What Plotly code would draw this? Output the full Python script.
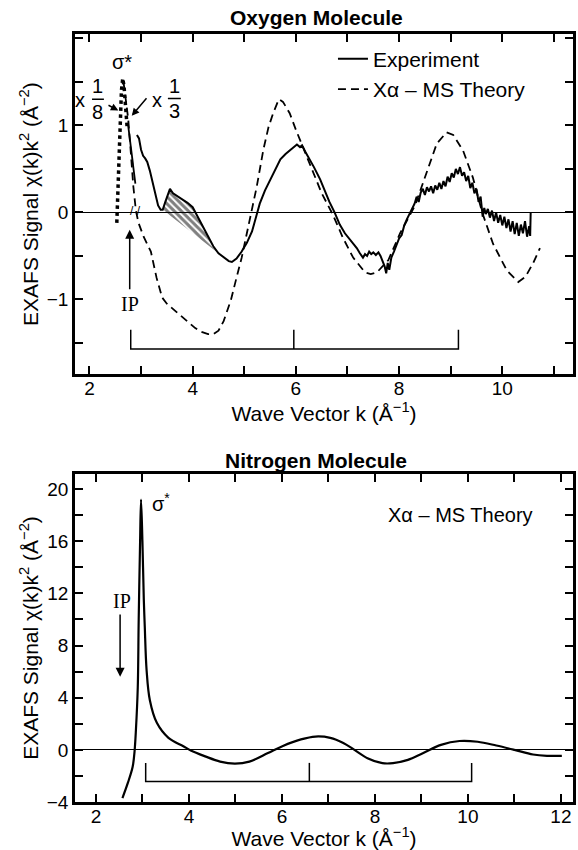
import plotly.graph_objects as go

# ---- Oxygen molecule ----
# experiment, main trace
o2_exp_k = [2.92, 2.96, 3.00, 3.04, 3.08, 3.12, 3.17, 3.21, 3.27, 3.33, 3.38, 3.42, 3.47, 3.52, 3.56,
            3.62, 3.70, 3.80, 3.90, 4.00, 4.10, 4.20, 4.30, 4.40, 4.50, 4.60, 4.70, 4.76, 4.85, 4.95,
            5.05, 5.15, 5.22, 5.30, 5.40, 5.50, 5.60, 5.70, 5.80, 5.90, 5.97, 6.02, 6.08, 6.12, 6.18,
            6.25, 6.35, 6.47, 6.55, 6.65, 6.75, 6.85, 6.95, 7.05, 7.12, 7.18, 7.24, 7.30, 7.34, 7.38,
            7.42, 7.46, 7.50, 7.55, 7.60, 7.64, 7.68, 7.72, 7.75, 7.78, 7.81, 7.85, 7.90, 7.95, 8.00,
            8.05, 8.10, 8.15, 8.20, 8.25, 8.30, 8.34, 8.38, 8.42, 8.46, 8.50, 8.54, 8.58, 8.62, 8.66,
            8.70, 8.74, 8.78, 8.82, 8.86, 8.90, 8.94, 8.98, 9.02, 9.06, 9.10, 9.14, 9.18, 9.22, 9.26,
            9.30, 9.34, 9.38, 9.42, 9.46, 9.50, 9.54, 9.58, 9.62, 9.65, 9.68, 9.72, 9.76, 9.80, 9.84,
            9.88, 9.92, 9.96, 10.00, 10.04, 10.08, 10.12, 10.16, 10.20, 10.24, 10.28, 10.32, 10.36,
            10.40, 10.44, 10.48, 10.52, 10.54, 10.55]
o2_exp_y = [0.89, 0.85, 0.72, 0.65, 0.62, 0.58, 0.48, 0.37, 0.22, 0.08, 0.03, 0.03, 0.12, 0.22, 0.27,
            0.22, 0.19, 0.15, 0.11, 0.06, -0.05, -0.17, -0.28, -0.39, -0.47, -0.52, -0.56, -0.57, -0.53, -0.45,
            -0.35, -0.22, -0.08, 0.10, 0.25, 0.37, 0.50, 0.61, 0.67, 0.72, 0.76, 0.78, 0.75, 0.77, 0.70,
            0.63, 0.52, 0.38, 0.26, 0.12, 0.00, -0.14, -0.24, -0.31, -0.36, -0.41, -0.47, -0.52, -0.48, -0.50,
            -0.45, -0.48, -0.46, -0.49, -0.46, -0.50, -0.56, -0.62, -0.70, -0.58, -0.66, -0.52, -0.45, -0.38, -0.30,
            -0.26, -0.15, -0.08, -0.02, 0.05, 0.10, 0.18, 0.12, 0.23, 0.27, 0.20, 0.29, 0.24, 0.30, 0.22,
            0.31, 0.26, 0.34, 0.27, 0.36, 0.30, 0.41, 0.35, 0.45, 0.40, 0.50, 0.44, 0.52, 0.42, 0.46,
            0.36, 0.42, 0.28, 0.34, 0.22, 0.27, 0.12, 0.18, -0.05, 0.05, -0.02, 0.04, -0.06, 0.02, -0.10,
            0.00, -0.12, -0.03, -0.15, -0.05, -0.18, -0.08, -0.22, -0.10, -0.25, -0.12, -0.27, -0.14,
            -0.24, -0.10, -0.28, -0.16, -0.27, 0.00]
# sigma* resonance (scaled x1/8), dotted
o2_peak_k = [2.53, 2.56, 2.59, 2.62, 2.645, 2.67, 2.70, 2.73]
o2_peak_y = [-0.12, 0.30, 0.90, 1.40, 1.54, 1.45, 1.20, 0.98]
# short segment after the peak (scaled x1/3)
o2_tail_k = [2.75, 2.80, 2.85, 2.89]
o2_tail_y = [1.00, 0.75, 0.50, 0.33]
# X-alpha MS theory
o2_th_k = [2.66, 2.70, 2.75, 2.80, 2.85, 2.90, 2.95, 3.05, 3.19, 3.30, 3.41, 3.50, 3.60, 3.75, 3.91,
           4.05, 4.16, 4.30, 4.40, 4.50, 4.60, 4.74, 4.85, 4.95, 5.05, 5.15, 5.24, 5.37, 5.47, 5.56,
           5.67, 5.75, 5.88, 6.00, 6.08, 6.20, 6.33, 6.50, 6.72, 6.91, 7.11, 7.34, 7.45, 7.57, 7.79,
           8.02, 8.31, 8.54, 8.73, 8.92, 9.05, 9.24, 9.43, 9.61, 9.82, 10.09, 10.31, 10.45, 10.60, 10.73]
o2_th_y = [1.50, 1.30, 1.08, 0.70, 0.30, 0.02, -0.12, -0.28, -0.45, -0.75, -0.98, -1.05, -1.10, -1.18, -1.26,
           -1.33, -1.37, -1.40, -1.40, -1.36, -1.25, -1.01, -0.75, -0.52, -0.24, 0.05, 0.29, 0.72, 0.98, 1.14,
           1.30, 1.27, 1.14, 0.95, 0.83, 0.65, 0.46, 0.22, -0.03, -0.29, -0.52, -0.69, -0.71, -0.69, -0.55,
           -0.24, 0.08, 0.48, 0.79, 0.92, 0.89, 0.71, 0.40, 0.00, -0.36, -0.67, -0.80, -0.74, -0.58, -0.41]
o2_hatch_range = (3.42, 4.50)
o2_bracket_k = [2.80, 5.96, 9.15]
o2_bracket_y = [-1.57, -1.35]
o2_ip_k = 2.78

# ---- Nitrogen molecule (theory only) ----
n2_k = [2.57, 2.69, 2.79, 2.83, 2.86, 2.90, 2.92, 2.95, 2.97, 3.00, 3.03, 3.05, 3.09, 3.16, 3.31,
        3.56, 3.88, 4.04, 4.35, 4.67, 4.99, 5.30, 5.70, 6.01, 6.41, 6.72, 7.04, 7.32, 7.56, 7.84,
        8.16, 8.39, 8.71, 9.03, 9.42, 9.82, 10.21, 10.61, 11.00, 11.40, 11.70, 12.02]
n2_y = [-3.7, -2.5, -1.3, -0.15, 1.5, 4.8, 10.0, 16.0, 19.2, 16.0, 11.5, 9.5, 6.1, 3.8, 2.07,
        0.92, 0.28, -0.05, -0.5, -0.9, -1.05, -0.9, -0.25, 0.28, 0.8, 1.02, 0.92, 0.53, 0.0, -0.64,
        -1.02, -1.02, -0.77, -0.26, 0.38, 0.68, 0.62, 0.33, 0.0, -0.36, -0.46, -0.46]
n2_bracket_k = [3.07, 6.59, 10.08]
n2_bracket_y = [-2.43, -1.0]
n2_ip_k = 2.52

FONT = "Liberation Sans, Arial, sans-serif"
SERIF = "Liberation Serif, Times New Roman, serif"


def bracket(ks, ys):
    b, t = ys
    return ([ks[0], ks[0], ks[2], ks[2], None, ks[1], ks[1]],
            [t, b, b, t, None, b, t])


fig = go.Figure()

# hatched area under the experimental bump
hk = [k for k in o2_exp_k if o2_hatch_range[0] <= k <= o2_hatch_range[1]]
hy = [y for k, y in zip(o2_exp_k, o2_exp_y) if o2_hatch_range[0] <= k <= o2_hatch_range[1]]
fig.add_trace(go.Scatter(x=hk, y=hy, fill="toself", mode="lines", line=dict(width=0),
                         fillcolor="rgba(0,0,0,0)",
                         fillpattern=dict(shape="\\", fgcolor="black", size=5, solidity=0.6),
                         showlegend=False, hoverinfo="skip"))
fig.add_trace(go.Scatter(x=o2_exp_k, y=o2_exp_y, mode="lines", name="Experiment",
                         line=dict(color="black", width=2)))
fig.add_trace(go.Scatter(x=o2_th_k, y=o2_th_y, mode="lines", name="Xα – MS Theory",
                         line=dict(color="black", width=1.8, dash="8px,5px")))
fig.add_trace(go.Scatter(x=o2_peak_k, y=o2_peak_y, mode="lines", showlegend=False,
                         line=dict(color="black", width=3.5, dash="dot")))
fig.add_trace(go.Scatter(x=o2_tail_k, y=o2_tail_y, mode="lines", showlegend=False,
                         line=dict(color="black", width=1.8)))
bx, by = bracket(o2_bracket_k, o2_bracket_y)
fig.add_trace(go.Scatter(x=bx, y=by, mode="lines", showlegend=False,
                         line=dict(color="black", width=1.5)))

fig.add_trace(go.Scatter(x=n2_k, y=n2_y, mode="lines", showlegend=False, line_shape="spline",
                         line=dict(color="black", width=2.2), xaxis="x2", yaxis="y2"))
bx, by = bracket(n2_bracket_k, n2_bracket_y)
fig.add_trace(go.Scatter(x=bx, y=by, mode="lines", showlegend=False,
                         line=dict(color="black", width=1.5), xaxis="x2", yaxis="y2"))

axis_common = dict(showline=True, linewidth=2.5, linecolor="black", mirror="ticks",
                   ticks="inside", ticklen=8, tickwidth=1.5, tickcolor="black", automargin=False,
                   showgrid=False, tickfont=dict(family=FONT, size=19, color="black"))
ytitle = "EXAFS Signal χ(k)k<sup>2</sup> (Å<sup>−2</sup>)"
xtitle = "Wave Vector k (Å<sup>−1</sup>)"
tfont = dict(family=FONT, size=21, color="black")

fig.update_layout(
    width=578, height=850,
    margin=dict(l=75, r=5, t=34, b=48),
    paper_bgcolor="white", plot_bgcolor="white",
    font=dict(family=FONT, color="black"),
    xaxis=dict(axis_common, domain=[0, 1], range=[1.72, 11.37], zeroline=False, anchor="y",
               tickvals=list(range(2, 12)), ticklabelstandoff=-5,
               ticktext=[str(v) if v % 2 == 0 else "" for v in range(2, 12)],
               title=dict(text=xtitle, font=tfont, standoff=2)),
    yaxis=dict(axis_common, domain=[0.557, 1], range=[-1.86, 2.05], anchor="x",
               zeroline=True, zerolinecolor="black", zerolinewidth=1,
               tickvals=[-1.5, -1, -0.5, 0, 0.5, 1, 1.5, 2],
               ticktext=["", "−1", "", "0", "", "1", "", ""],
               title=dict(text=ytitle, font=tfont, standoff=3)),
    xaxis2=dict(axis_common, domain=[0, 1], range=[1.55, 12.26], zeroline=False, anchor="y2",
                tickvals=list(range(2, 13)), ticklabelstandoff=-5,
                ticktext=[str(v) if v % 2 == 0 else "" for v in range(2, 13)],
                title=dict(text=xtitle, font=tfont, standoff=2)),
    yaxis2=dict(axis_common, domain=[0, 0.427], range=[-4, 21.15], anchor="x2",
                zeroline=True, zerolinecolor="black", zerolinewidth=1,
                tickvals=list(range(-4, 21, 2)),
                ticktext=[("−" + str(-v) if v < 0 else str(v)) if v % 4 == 0 else "" for v in range(-4, 21, 2)],
                title=dict(text=ytitle, font=tfont, standoff=3)),
    legend=dict(x=0.518, y=0.994, xanchor="left", yanchor="top", bgcolor="rgba(0,0,0,0)",
                font=dict(family=FONT, size=21, color="black"), tracegroupgap=4),
)

ann = []
# panel titles
ann.append(dict(text="<b>Oxygen Molecule</b>", x=0.484, y=1.022, xref="paper", yref="paper",
                yanchor="middle", showarrow=False, font=dict(family=FONT, size=21)))
ann.append(dict(text="<b>Nitrogen Molecule</b>", x=0.484, y=0.445, xref="paper", yref="paper",
                yanchor="middle", showarrow=False, font=dict(family=FONT, size=21)))
# oxygen labels
ann.append(dict(text="σ*", x=2.63, y=1.73, xref="x", yref="y", showarrow=False,
                font=dict(family=FONT, size=20)))
ann.append(dict(text="x", x=1.82, y=1.29, xref="x", yref="y", showarrow=False, font=dict(family=FONT, size=20)))
ann.append(dict(text="1", x=2.16, y=1.45, xref="x", yref="y", showarrow=False, font=dict(family=FONT, size=20)))
ann.append(dict(text="8", x=2.16, y=1.15, xref="x", yref="y", showarrow=False, font=dict(family=FONT, size=20)))
ann.append(dict(text="x", x=3.31, y=1.29, xref="x", yref="y", showarrow=False, font=dict(family=FONT, size=20)))
ann.append(dict(text="1", x=3.64, y=1.45, xref="x", yref="y", showarrow=False, font=dict(family=FONT, size=20)))
ann.append(dict(text="3", x=3.64, y=1.16, xref="x", yref="y", showarrow=False, font=dict(family=FONT, size=20)))
ann.append(dict(text="", x=2.56, y=1.17, ax=2.34, ay=1.24, xref="x", yref="y", axref="x", ayref="y",
                showarrow=True, arrowhead=2, arrowsize=1, arrowwidth=1.5, arrowcolor="black"))
ann.append(dict(text="", x=2.82, y=1.11, ax=3.13, ay=1.33, xref="x", yref="y", axref="x", ayref="y",
                showarrow=True, arrowhead=2, arrowsize=1, arrowwidth=1.5, arrowcolor="black"))
ann.append(dict(text="/ /", x=2.9, y=0.02, xref="x", yref="y", showarrow=False,
                font=dict(family=FONT, size=12)))
ann.append(dict(text="", x=o2_ip_k, y=-0.2, ax=o2_ip_k, ay=-0.9, xref="x", yref="y", axref="x", ayref="y",
                showarrow=True, arrowhead=2, arrowsize=1.2, arrowwidth=1.5, arrowcolor="black"))
ann.append(dict(text="IP", x=o2_ip_k, y=-1.05, xref="x", yref="y", showarrow=False,
                font=dict(family=SERIF, size=20)))
# nitrogen labels
ann.append(dict(text="σ<sup>*</sup>", x=3.4, y=19.0, xref="x2", yref="y2", showarrow=False,
                font=dict(family=FONT, size=20)))
ann.append(dict(text="Xα – MS Theory", x=9.85, y=18.0, xref="x2", yref="y2", showarrow=False,
                font=dict(family=FONT, size=20)))
ann.append(dict(text="", x=n2_ip_k, y=5.6, ax=n2_ip_k, ay=10.5, xref="x2", yref="y2", axref="x2", ayref="y2",
                showarrow=True, arrowhead=2, arrowsize=1.2, arrowwidth=1.5, arrowcolor="black"))
ann.append(dict(text="IP", x=n2_ip_k + 0.03, y=11.4, xref="x2", yref="y2", showarrow=False,
                font=dict(family=SERIF, size=20)))
fig.update_layout(annotations=ann)

# fraction bars
fig.add_shape(type="line", x0=2.05, x1=2.28, y0=1.30, y1=1.30, xref="x", yref="y", line=dict(color="black", width=1.5))
fig.add_shape(type="line", x0=3.52, x1=3.77, y0=1.31, y1=1.31, xref="x", yref="y", line=dict(color="black", width=1.5))

# drop the browser's default body margin so the figure sits at the page origin
fig.write_html("out.html", config={"displayModeBar": False},
               post_script="document.body.style.margin='0';")
